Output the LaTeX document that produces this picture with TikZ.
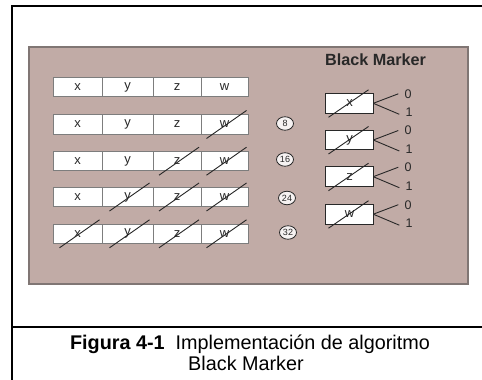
\documentclass[tikz,border=0pt]{standalone}
\usepackage{fontspec}
\setmainfont{Liberation Sans}
\usetikzlibrary{shapes.geometric}
\definecolor{panel}{RGB}{193,171,166}
\definecolor{panelborder}{RGB}{128,118,116}
\definecolor{cellborder}{RGB}{125,125,125}
\definecolor{ink}{RGB}{40,40,40}
\begin{document}
\begin{tikzpicture}[x=1pt,y=-1pt,
  cell/.style={draw=cellborder,fill=white,line width=0.9pt,minimum height=19.4pt,inner sep=0pt,outer sep=0pt,font=\fontsize{13}{13}\selectfont,text=ink},
  rbox/.style={draw=ink,fill=white,line width=0.9pt,minimum width=47.6pt,minimum height=19.8pt,inner sep=0pt,outer sep=0pt,font=\fontsize{13}{13}\selectfont,text=ink},
  slash/.style={draw=black!85,line width=0.9pt},
  branch/.style={draw=ink,line width=0.9pt},
  bit/.style={inner xsep=6pt,inner ysep=0pt,font=\fontsize{12.5}{12.5}\selectfont,text=ink},
  badge/.style={ellipse,draw=ink,line width=0.8pt,fill=white!85!panel,minimum width=17pt,minimum height=13.5pt,inner sep=0pt,font=\fontsize{9}{9}\selectfont,text=ink},
  frame/.style={line width=2.5pt,draw=black}
]
\useasboundingbox (0,0) rectangle (482,380);
% outer frame
\draw[frame] (490,6) -- (12,6) -- (12,390);
\draw[line width=2pt] (12,327) -- (490,327);
% panel
\draw[draw=panelborder,fill=panel,line width=1.2pt] (29,47) rectangle (468,284);
% title
\node[anchor=base west,inner sep=0pt,text=ink,font=\bfseries\fontsize{16.2}{16}\selectfont] (title) at (325,65) {Black Marker};
% left rows
\foreach \r/\cy in {1/87,2/124.5,3/161.2,4/197,5/233.8} {
  \foreach \l/\cx/\w in {x/77.5/49,y/127.5/51,z/177/48,w/224.5/47}
    \node[cell,minimum width=\w pt] (r\r\l) at (\cx,\cy) {\l};
}
\foreach \n in {r2w,r3z,r3w,r4y,r4z,r4w,r5x,r5y,r5z,r5w}
  \draw[slash] ([shift={(-18,14)}]\n.center) -- ([shift={(22,-14)}]\n.center);
% circled numbers
\node[badge] (c8) at (285,123.5) {8};
\node[badge] (c16) at (285,159.5) {16};
\node[badge] (c24) at (287,198) {24};
\node[badge] (c32) at (288,232.5) {32};
% right boxes
\foreach \l/\cy in {x/103.3,y/140,z/176.7,w/214.2} {
  \node[rbox] (m\l) at (349.5,\cy) {\l};
  \draw[slash] ([shift={(-21,14)}]m\l.center) -- ([shift={(19,-13.5)}]m\l.center);
  \node[bit] (m\l0) at (408,\cy-9.5) {0};
  \node[bit] (m\l1) at (409,\cy+9) {1};
  \draw[branch] (m\l.east) -- (m\l0.west);
  \draw[branch] (m\l.east) -- ([yshift=-2]m\l1.west);
}
% caption
\node[anchor=base,inner sep=0pt,font=\fontsize{19.8}{21}\selectfont] (cap1) at (250,349) {\textbf{Figura 4-1}\ \ Implementación de algoritmo};
\node[anchor=base,inner sep=0pt,font=\fontsize{19.8}{21}\selectfont] (cap2) at (246,370) {Black Marker};
\end{tikzpicture}
\end{document}
